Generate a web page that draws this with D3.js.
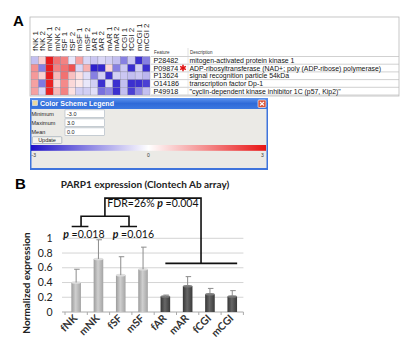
<!DOCTYPE html>
<html><head><meta charset="utf-8">
<script src="https://cdn.jsdelivr.net/npm/d3@7"></script>
<style>body{margin:0;background:#fff}svg{display:block}</style>
</head><body>
<script>
// ---------- DATA ----------
const heatColumns = ["fNK 1","fNK 2","mNK 1","mNK 2","fSF 1","fSF 2","mSF 1","mSF 2","fAR 1","fAR 2","mAR 1","mAR 2","fCGI 1","fCGI 2","mCGI 1","mCGI 2"];
const featureIds = ["P28482","P09874","P13624","O14186","P49918"];
const featureDesc = ["mitogen-activated protein kinase 1",
  "ADP-ribosyltransferase (NAD+; poly (ADP-ribose) polymerase)",
  "signal recognition particle 54kDa",
  "transcription factor Dp-1",
  "\"cyclin-dependent kinase inhibitor 1C (p57, Kip2)\""];
const heatRow1 = [-0.8, 0.6, 2.9, 1.8, 1.6, -0.3, 1.2, -0.5, -0.7, -0.5, -0.6, -0.8, -1.6, -0.7, -2.6, -1.6];
const heatRow2 = [1.4, -1.6, 2.9, 1.6, 1.8, 2.2, -0.5, 1.0, -2.8, -2.7, 0.5, -1.6, -0.7, -2.6, -0.6, -2.6];
const heatRow3 = [1.3, 0.6, 2.9, 0.9, 1.8, 0.8, 0.4, -0.4, -1.6, -0.6, -2.6, -0.6, -0.7, -0.8, -0.7, -0.9];
const heatRow4 = [1.2, -1.7, 2.8, 0.5, 1.5, 0.5, 0.3, -0.3, -0.6, -2.6, -0.4, -2.6, -0.8, -2.6, -2.6, -2.4];
const heatRow5 = [1.2, -0.5, 2.8, 0.9, 1.6, 0.4, -0.6, -0.6, -0.4, -1.8, -1.5, -2.6, -0.8, -2.4, -1.5, -0.8];
const heatValues = [heatRow1, heatRow2, heatRow3, heatRow4, heatRow5];
const legendFields = ["Minimum","Maximum","Mean"];
const legendValues = ["-3.0","3.0","0.0"];
const legendTicks = [-3, 0, 3];

const categories = ["fNK","mNK","fSF","mSF","fAR","mAR","fCGI","mCGI"];
const groups = ["control","control","control","control","case","case","case","case"];
const means = [0.40, 0.72, 0.50, 0.58, 0.21, 0.35, 0.24, 0.21];
const errors = [0.18, 0.26, 0.25, 0.30, 0.02, 0.13, 0.08, 0.08];
const yTicks = [0, 0.2, 0.4, 0.6, 0.8, 1];

// ---------- SVG ----------
const W = 411, H = 351;
const svg = d3.select("body").append("svg").attr("width", W).attr("height", H);
const defs = svg.append("defs");
const tahoma = "Liberation Sans, Arial, sans-serif";
const cal = "Lato, Open Sans, sans-serif";

// panel letters
svg.append("text").attr("x", 13).attr("y", 26).text("A")
  .attr("font-family", "Liberation Sans, Arial").attr("font-weight", "bold").attr("font-size", 15);
svg.append("text").attr("x", 15).attr("y", 189).text("B")
  .attr("font-family", "Liberation Sans, Arial").attr("font-weight", "bold").attr("font-size", 15);

// ---------- PANEL A: heatmap table ----------
const heatColor = d3.scaleLinear().domain([-3, 0, 3]).range(["#1e10c8", "#ffffff", "#e81414"]).clamp(true);
const xh = d3.scaleBand().domain(heatColumns).range([31, 150]);
const yh = d3.scaleBand().domain(featureIds).range([56.5, 95]);

svg.append("rect").attr("x", 30).attr("y", 17).attr("width", 369).attr("height", 79)
  .attr("fill", "#fff").attr("stroke", "#b8b8b8").attr("stroke-width", 0.8);

const gA = svg.append("g");
heatValues.forEach((row, r) => {
  gA.selectAll(null).data(row).enter().append("rect")
    .attr("x", (d, i) => xh(heatColumns[i]))
    .attr("y", yh(featureIds[r]))
    .attr("width", xh.bandwidth()).attr("height", yh.bandwidth())
    .attr("fill", d => heatColor(d))
    .attr("stroke", "#8a8aa0").attr("stroke-width", 0.35);
});

// column labels
gA.selectAll(null).data(heatColumns).enter().append("text")
  .attr("transform", d => `translate(${xh(d) + xh.bandwidth() / 2 + 2.8},51) rotate(-90)`)
  .attr("font-family", tahoma).attr("font-size", 8).attr("fill", "#222")
  .text(d => d);

// table header and rows
const tx0 = 151, tx1 = 399, txDesc = 188;
gA.append("text").attr("x", 154).attr("y", 53.5).text("Feature")
  .attr("font-family", tahoma).attr("font-size", 4.5).attr("fill", "#333");
gA.append("text").attr("x", 190).attr("y", 53.5).text("Description")
  .attr("font-family", tahoma).attr("font-size", 4.5).attr("fill", "#333");
gA.append("line").attr("x1", txDesc).attr("x2", txDesc).attr("y1", 48).attr("y2", 56)
  .attr("stroke", "#ccc").attr("stroke-width", 0.6);
const bounds = featureIds.map(f => yh(f)).concat([yh.range()[1]]);
gA.selectAll(null).data(bounds).enter().append("line")
  .attr("x1", tx0).attr("x2", tx1).attr("y1", d => d).attr("y2", d => d)
  .attr("stroke", "#bdbdbd").attr("stroke-width", 0.7);
gA.append("line").attr("x1", txDesc).attr("x2", txDesc).attr("y1", yh.range()[0]).attr("y2", yh.range()[1])
  .attr("stroke", "#d6d6d6").attr("stroke-width", 0.6);
gA.selectAll(null).data(featureIds).enter().append("text")
  .attr("x", 153.5).attr("y", d => yh(d) + yh.bandwidth() / 2 + 2.7)
  .attr("font-family", tahoma).attr("font-size", 7.2).attr("fill", "#111").text(d => d);
gA.selectAll(null).data(featureDesc).enter().append("text")
  .attr("x", 189.5).attr("y", (d, i) => yh(featureIds[i]) + yh.bandwidth() / 2 + 2.6)
  .attr("font-family", tahoma).attr("font-size", 6.9).attr("fill", "#111").text(d => d);
// red asterisk marking PARP1
gA.append("path")
  .attr("transform", `translate(183,${yh("P09874") + yh.bandwidth() / 2})`)
  .attr("d", d3.symbol(d3.symbolAsterisk, 30)())
  .attr("stroke", "#e01010").attr("stroke-width", 1.5).attr("fill", "none");

// ---------- legend window ----------
const wx = 30, wy = 98, ww = 238, wh = 72;
const tbGrad = defs.append("linearGradient").attr("id", "tb").attr("x1", 0).attr("y1", 0).attr("x2", 0).attr("y2", 1);
tbGrad.append("stop").attr("offset", "0%").attr("stop-color", "#5d93ee");
tbGrad.append("stop").attr("offset", "50%").attr("stop-color", "#2f6ad8");
tbGrad.append("stop").attr("offset", "100%").attr("stop-color", "#3c78e0");
svg.append("rect").attr("x", wx).attr("y", wy).attr("width", ww).attr("height", wh)
  .attr("fill", "#3f74dc");
svg.append("rect").attr("x", wx).attr("y", wy).attr("width", ww).attr("height", 11).attr("fill", "url(#tb)");
svg.append("rect").attr("x", wx + 1.5).attr("y", wy + 11).attr("width", ww - 3).attr("height", wh - 13)
  .attr("fill", "#ebeae6");
svg.append("rect").attr("x", wx + 2.5).attr("y", wy + 2.5).attr("width", 5).attr("height", 5)
  .attr("fill", "#e8d8a0").attr("stroke", "#fff").attr("stroke-width", 0.5);
svg.append("text").attr("x", wx + 10).attr("y", wy + 8).text("Color Scheme Legend")
  .attr("font-family", tahoma).attr("font-size", 7).attr("font-weight", "bold").attr("fill", "#fff");
// close button
svg.append("rect").attr("x", wx + ww - 10).attr("y", wy + 2).attr("width", 8).attr("height", 7.5).attr("rx", 1)
  .attr("fill", "#d8553a").attr("stroke", "#fff").attr("stroke-width", 0.6);
svg.append("path").attr("d", `M${wx + ww - 8},${wy + 4}l4,3.5M${wx + ww - 4},${wy + 4}l-4,3.5`)
  .attr("stroke", "#fff").attr("stroke-width", 1.1);

const fy = d3.scalePoint().domain(legendFields).range([113.5, 131.5]);
svg.selectAll(null).data(legendFields).enter().append("text")
  .attr("x", 31.5).attr("y", d => fy(d) + 2).text(d => d)
  .attr("font-family", tahoma).attr("font-size", 5.5).attr("fill", "#222");
svg.selectAll(null).data(legendValues).enter().append("rect")
  .attr("x", 65).attr("y", (d, i) => fy(legendFields[i]) - 3.6).attr("width", 39.5).attr("height", 7.4)
  .attr("fill", "#fff").attr("stroke", "#9aa7b8").attr("stroke-width", 0.5);
svg.selectAll(null).data(legendValues).enter().append("text")
  .attr("x", 67).attr("y", (d, i) => fy(legendFields[i]) + 2).text(d => d)
  .attr("font-family", tahoma).attr("font-size", 5.5).attr("fill", "#222");
svg.append("rect").attr("x", 32.3).attr("y", 136.7).attr("width", 29.5).attr("height", 6.8).attr("rx", 1)
  .attr("fill", "#f4f3ee").attr("stroke", "#7a8aa0").attr("stroke-width", 0.5);
svg.append("text").attr("x", 47).attr("y", 142).attr("text-anchor", "middle").text("Update")
  .attr("font-family", tahoma).attr("font-size", 5.5).attr("fill", "#222");

const lx = d3.scaleLinear().domain([-3, 3]).range([31, 266]);
const lg = defs.append("linearGradient").attr("id", "lg");
d3.range(-3, 3.01, 0.5).forEach(v => lg.append("stop")
  .attr("offset", (v + 3) / 6 * 100 + "%").attr("stop-color", heatColor(v)));
svg.append("rect").attr("x", lx(-3)).attr("y", 145).attr("width", lx(3) - lx(-3)).attr("height", 5.8)
  .attr("fill", "url(#lg)");
svg.selectAll(null).data(legendTicks).enter().append("text")
  .attr("x", d => d === -3 ? lx(d) + 0.5 : d === 3 ? lx(d) - 5 : lx(d) - 1.5)
  .attr("y", 157).text(d => d)
  .attr("font-family", tahoma).attr("font-size", 5).attr("fill", "#333");

// ---------- PANEL B: bar chart ----------
const x = d3.scaleBand().domain(categories).range([65, 243.4]);
const y = d3.scaleLinear().domain([0, 1]).range([312, 238.3]);
const xb = u => x.range()[0] + u * x.step();

svg.append("text").attr("x", 145).attr("y", 187.5).attr("text-anchor", "middle")
  .text("PARP1 expression (Clontech Ab array)")
  .attr("font-family", cal).attr("font-weight", "bold").attr("font-size", 10).attr("fill", "#222");
svg.append("text").attr("transform", "translate(30,283) rotate(-90)").attr("text-anchor", "middle")
  .text("Normalized expression")
  .attr("font-family", cal).attr("font-weight", "bold").attr("font-size", 10).attr("fill", "#222");

// grid
svg.selectAll(null).data(yTicks.filter(t => t > 0)).enter().append("line")
  .attr("x1", 62).attr("x2", 243.4).attr("y1", d => y(d)).attr("y2", d => y(d))
  .attr("stroke", "#cfcfcf").attr("stroke-width", 0.9);
svg.selectAll(null).data(yTicks).enter().append("text")
  .attr("x", 52.5).attr("y", d => y(d) + 3.6).attr("text-anchor", "end")
  .text(d => d3.format("~g")(d))
  .attr("font-family", cal).attr("font-size", 10.5).attr("fill", "#222");
// x axis
const xAxis = d3.axisBottom(x).tickSize(0).tickFormat("");
const gx = svg.append("g").attr("transform", `translate(0,${y(0)})`).call(xAxis);
gx.select(".domain").attr("stroke", "#aaa").attr("d", `M62,0H243.4`);
gx.selectAll(null).data(d3.range(categories.length + 1)).enter().append("line")
  .attr("x1", d => xb(d)).attr("x2", d => xb(d)).attr("y1", 0).attr("y2", 3)
  .attr("stroke", "#aaa");
svg.selectAll(null).data(categories).enter().append("text")
  .attr("transform", d => `translate(${x(d) + x.bandwidth() / 2 + 2},${y(0) + 7}) rotate(-45)`)
  .attr("text-anchor", "end").text(d => d)
  .attr("font-family", cal).attr("font-weight", "bold").attr("font-size", 10.5).attr("fill", "#333");

// bar gradients
const shade = d3.scaleOrdinal().domain(["control", "case"]).range([["#9c9c9c", "#cfcfcf", "#a4a4a4"], ["#353535", "#676767", "#3a3a3a"]]);
["control", "case"].forEach(g => {
  const gr = defs.append("linearGradient").attr("id", "bar-" + g);
  const c = shade(g);
  gr.append("stop").attr("offset", "0%").attr("stop-color", c[0]);
  gr.append("stop").attr("offset", "45%").attr("stop-color", c[1]);
  gr.append("stop").attr("offset", "100%").attr("stop-color", c[2]);
});
const bw = 9.6;
const bars = svg.append("g");
bars.selectAll(null).data(means).enter().append("rect")
  .attr("x", (d, i) => x(categories[i]) + x.bandwidth() / 2 - bw / 2)
  .attr("y", d => y(d)).attr("width", bw).attr("height", d => y(0) - y(d))
  .attr("fill", (d, i) => `url(#bar-${groups[i]})`);
bars.selectAll(null).data(means).enter().append("ellipse")
  .attr("cx", (d, i) => x(categories[i]) + x.bandwidth() / 2)
  .attr("cy", d => y(d)).attr("rx", bw / 2).attr("ry", 1.3)
  .attr("fill", (d, i) => groups[i] === "control" ? "#dedede" : "#7a7a7a");
// error bars
const eb = svg.append("g").attr("stroke", "#8c8c8c").attr("stroke-width", 1);
eb.selectAll(null).data(means).enter().append("line")
  .attr("x1", (d, i) => x(categories[i]) + x.bandwidth() / 2)
  .attr("x2", (d, i) => x(categories[i]) + x.bandwidth() / 2)
  .attr("y1", d => y(d)).attr("y2", (d, i) => y(d + errors[i]));
eb.selectAll(null).data(means).enter().append("line")
  .attr("x1", (d, i) => x(categories[i]) + x.bandwidth() / 2 - 2)
  .attr("x2", (d, i) => x(categories[i]) + x.bandwidth() / 2 + 3.5)
  .attr("y1", (d, i) => y(d + errors[i])).attr("y2", (d, i) => y(d + errors[i]));

// significance brackets
const br = svg.append("g").attr("stroke", "#111").attr("stroke-width", 1.6).attr("fill", "none");
br.append("path").attr("d",
  `M${xb(1.79)},${y(1.30)}V${y(1.545)}H${xb(6.1)}V${y(0.66)}`);
br.append("path").attr("d", `M${xb(4.5)},${y(0.66)}H${xb(7.72)}`);
br.append("path").attr("d", `M${xb(0.72)},${y(1.16)}V${y(1.30)}H${xb(2.87)}V${y(1.16)}`);
br.append("path").attr("d", `M${xb(0.3)},${y(1.16)}H${xb(1.05)}M${xb(2.47)},${y(1.16)}H${xb(3.23)}`)
  .attr("stroke-width", 1.5);

const ann = (tx, ty, pre, val) => {
  const t = svg.append("text").attr("x", tx).attr("y", ty)
    .attr("font-family", cal).attr("font-size", 10.5).attr("fill", "#111");
  if (pre) t.append("tspan").text(pre);
  t.append("tspan").text("p").attr("font-style", "italic").attr("font-weight", "bold");
  t.append("tspan").text(" =" + val);
};
ann(xb(1.9), y(1.43), "FDR=26% ", "0.004");
ann(xb(-0.08), y(1.01), "", "0.018");
ann(xb(2.14), y(1.01), "", "0.016");
</script>
</body></html>
